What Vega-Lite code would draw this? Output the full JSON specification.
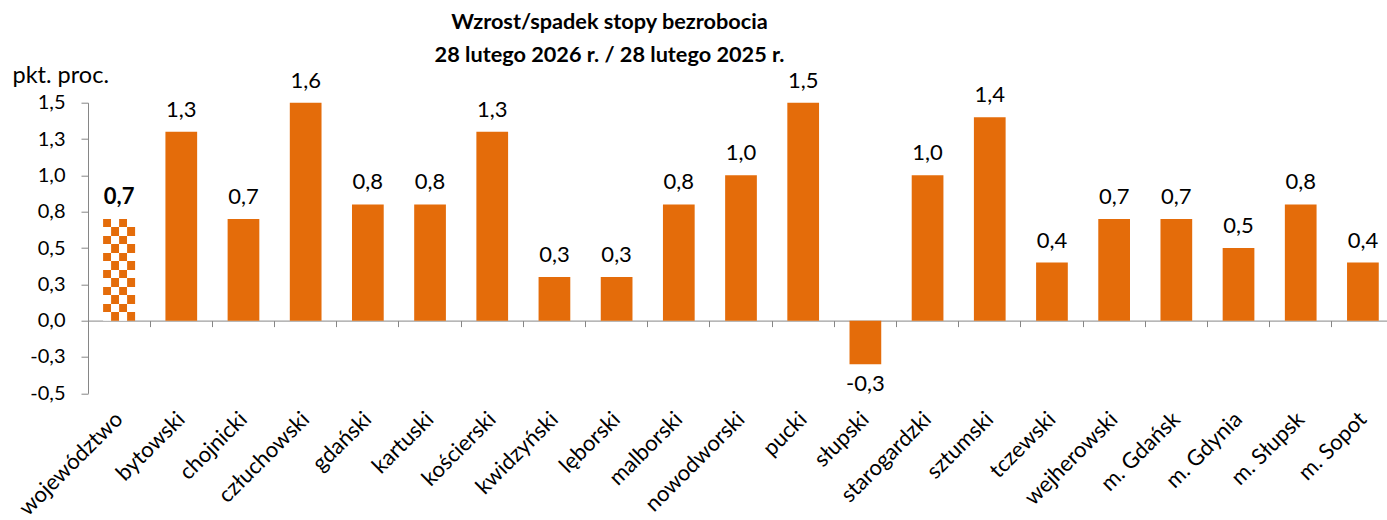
{
  "$schema": "https://vega.github.io/schema/vega-lite/v6.json",
  "width": 1299,
  "height": 290.6,
  "autosize": {"type": "none"},
  "padding": {"left": 88, "top": 102.7, "right": 0, "bottom": 126.7},
  "background": "white",
  "config": {
    "view": {"stroke": null},
    "font": "Lato",
    "locale": {"number": {"decimal": ",", "thousands": " ", "grouping": [3], "currency": ["", " zł"], "minus": "-"}},
    "axis": {"labelColor": "black", "labelFont": "Lato", "titleFont": "Lato", "titleColor": "black", "domainColor": "#868686", "tickColor": "#868686"}
  },
  "title": {
    "text": ["Wzrost/spadek stopy bezrobocia", "28 lutego 2026 r. / 28 lutego 2025 r."],
    "fontSize": 21.7,
    "fontWeight": "bold",
    "font": "Lato",
    "color": "black",
    "anchor": "middle",
    "frame": "group",
    "dx": -128,
    "dy": 3,
    "lineHeight": 33,
    "offset": 0
  },
  "data": {
    "values": [
      {"name": "województwo", "value": 0.7},
      {"name": "bytowski", "value": 1.3},
      {"name": "chojnicki", "value": 0.7},
      {"name": "człuchowski", "value": 1.6},
      {"name": "gdański", "value": 0.8},
      {"name": "kartuski", "value": 0.8},
      {"name": "kościerski", "value": 1.3},
      {"name": "kwidzyński", "value": 0.3},
      {"name": "lęborski", "value": 0.3},
      {"name": "malborski", "value": 0.8},
      {"name": "nowodworski", "value": 1.0},
      {"name": "pucki", "value": 1.5},
      {"name": "słupski", "value": -0.3},
      {"name": "starogardzki", "value": 1.0},
      {"name": "sztumski", "value": 1.4},
      {"name": "tczewski", "value": 0.4},
      {"name": "wejherowski", "value": 0.7},
      {"name": "m. Gdańsk", "value": 0.7},
      {"name": "m. Gdynia", "value": 0.5},
      {"name": "m. Słupsk", "value": 0.8},
      {"name": "m. Sopot", "value": 0.4}
    ]
  },
  "encoding": {
    "x": {"field": "name", "type": "nominal",
      "scale": {"domain": ["województwo", "bytowski", "chojnicki", "człuchowski", "gdański", "kartuski", "kościerski", "kwidzyński", "lęborski", "malborski", "nowodworski", "pucki", "słupski", "starogardzki", "sztumski", "tczewski", "wejherowski", "m. Gdańsk", "m. Gdynia", "m. Słupsk", "m. Sopot"], "paddingInner": 0, "paddingOuter": 0, "range": [0, 1306]},
      "axis": {"orient": "bottom", "title": null, "domain": true, "ticks": true, "tickSize": 6, "bandPosition": 0, "offset": -72.7, "labelAngle": -45, "labelFontSize": 22, "labelPadding": 88.7, "labelOffset": 0, "labelAlign": "right", "labelBaseline": "middle"}},
    "y": {"field": "value", "type": "quantitative",
      "scale": {"domain": [-0.5, 1.5], "nice": false, "zero": false, "clamp": true},
      "axis": {"title": "pkt. proc.", "titleAngle": 0, "titleFontSize": 23.5, "titleFontWeight": "normal", "titleAlign": "left", "titleBaseline": "middle", "titleX": -76, "titleY": -27, "grid": false, "values": [-0.5, -0.25, 0, 0.25, 0.5, 0.75, 1, 1.25, 1.5], "format": ".1f", "labelFontSize": 20, "tickSize": 7, "labelPadding": 16}}
  },
  "layer": [
    {
      "mark": {"type": "bar", "color": "#E46C0A", "width": {"band": 0.51}},
      "transform": [{"filter": "datum.name !== 'województwo'"}]
    },
    {
      "mark": {"type": "bar", "width": 8, "xOffset": -12, "color": {"gradient": "linear", "x1": 0, "y1": 0, "x2": 0, "y2": 1, "stops": [
        {"offset": 0, "color": "#E46C0A"}, {"offset": 0.0833, "color": "#E46C0A"}, {"offset": 0.0833, "color": "#FFFFFF"}, {"offset": 0.1667, "color": "#FFFFFF"},
        {"offset": 0.1667, "color": "#E46C0A"}, {"offset": 0.25, "color": "#E46C0A"}, {"offset": 0.25, "color": "#FFFFFF"}, {"offset": 0.3333, "color": "#FFFFFF"},
        {"offset": 0.3333, "color": "#E46C0A"}, {"offset": 0.4167, "color": "#E46C0A"}, {"offset": 0.4167, "color": "#FFFFFF"}, {"offset": 0.5, "color": "#FFFFFF"},
        {"offset": 0.5, "color": "#E46C0A"}, {"offset": 0.5833, "color": "#E46C0A"}, {"offset": 0.5833, "color": "#FFFFFF"}, {"offset": 0.6667, "color": "#FFFFFF"},
        {"offset": 0.6667, "color": "#E46C0A"}, {"offset": 0.75, "color": "#E46C0A"}, {"offset": 0.75, "color": "#FFFFFF"}, {"offset": 0.8333, "color": "#FFFFFF"},
        {"offset": 0.8333, "color": "#E46C0A"}, {"offset": 0.9167, "color": "#E46C0A"}, {"offset": 0.9167, "color": "#FFFFFF"}, {"offset": 1, "color": "#FFFFFF"}]}},
      "transform": [{"filter": "datum.name === 'województwo'"}]
    },
    {
      "mark": {"type": "bar", "width": 8, "xOffset": -4, "color": {"gradient": "linear", "x1": 0, "y1": 0, "x2": 0, "y2": 1, "stops": [
        {"offset": 0, "color": "#FFFFFF"}, {"offset": 0.0833, "color": "#FFFFFF"}, {"offset": 0.0833, "color": "#E46C0A"}, {"offset": 0.1667, "color": "#E46C0A"},
        {"offset": 0.1667, "color": "#FFFFFF"}, {"offset": 0.25, "color": "#FFFFFF"}, {"offset": 0.25, "color": "#E46C0A"}, {"offset": 0.3333, "color": "#E46C0A"},
        {"offset": 0.3333, "color": "#FFFFFF"}, {"offset": 0.4167, "color": "#FFFFFF"}, {"offset": 0.4167, "color": "#E46C0A"}, {"offset": 0.5, "color": "#E46C0A"},
        {"offset": 0.5, "color": "#FFFFFF"}, {"offset": 0.5833, "color": "#FFFFFF"}, {"offset": 0.5833, "color": "#E46C0A"}, {"offset": 0.6667, "color": "#E46C0A"},
        {"offset": 0.6667, "color": "#FFFFFF"}, {"offset": 0.75, "color": "#FFFFFF"}, {"offset": 0.75, "color": "#E46C0A"}, {"offset": 0.8333, "color": "#E46C0A"},
        {"offset": 0.8333, "color": "#FFFFFF"}, {"offset": 0.9167, "color": "#FFFFFF"}, {"offset": 0.9167, "color": "#E46C0A"}, {"offset": 1, "color": "#E46C0A"}]}},
      "transform": [{"filter": "datum.name === 'województwo'"}]
    },
    {
      "mark": {"type": "bar", "width": 8, "xOffset": 4, "color": {"gradient": "linear", "x1": 0, "y1": 0, "x2": 0, "y2": 1, "stops": [
        {"offset": 0, "color": "#E46C0A"}, {"offset": 0.0833, "color": "#E46C0A"}, {"offset": 0.0833, "color": "#FFFFFF"}, {"offset": 0.1667, "color": "#FFFFFF"},
        {"offset": 0.1667, "color": "#E46C0A"}, {"offset": 0.25, "color": "#E46C0A"}, {"offset": 0.25, "color": "#FFFFFF"}, {"offset": 0.3333, "color": "#FFFFFF"},
        {"offset": 0.3333, "color": "#E46C0A"}, {"offset": 0.4167, "color": "#E46C0A"}, {"offset": 0.4167, "color": "#FFFFFF"}, {"offset": 0.5, "color": "#FFFFFF"},
        {"offset": 0.5, "color": "#E46C0A"}, {"offset": 0.5833, "color": "#E46C0A"}, {"offset": 0.5833, "color": "#FFFFFF"}, {"offset": 0.6667, "color": "#FFFFFF"},
        {"offset": 0.6667, "color": "#E46C0A"}, {"offset": 0.75, "color": "#E46C0A"}, {"offset": 0.75, "color": "#FFFFFF"}, {"offset": 0.8333, "color": "#FFFFFF"},
        {"offset": 0.8333, "color": "#E46C0A"}, {"offset": 0.9167, "color": "#E46C0A"}, {"offset": 0.9167, "color": "#FFFFFF"}, {"offset": 1, "color": "#FFFFFF"}]}},
      "transform": [{"filter": "datum.name === 'województwo'"}]
    },
    {
      "mark": {"type": "bar", "width": 8, "xOffset": 12, "color": {"gradient": "linear", "x1": 0, "y1": 0, "x2": 0, "y2": 1, "stops": [
        {"offset": 0, "color": "#FFFFFF"}, {"offset": 0.0833, "color": "#FFFFFF"}, {"offset": 0.0833, "color": "#E46C0A"}, {"offset": 0.1667, "color": "#E46C0A"},
        {"offset": 0.1667, "color": "#FFFFFF"}, {"offset": 0.25, "color": "#FFFFFF"}, {"offset": 0.25, "color": "#E46C0A"}, {"offset": 0.3333, "color": "#E46C0A"},
        {"offset": 0.3333, "color": "#FFFFFF"}, {"offset": 0.4167, "color": "#FFFFFF"}, {"offset": 0.4167, "color": "#E46C0A"}, {"offset": 0.5, "color": "#E46C0A"},
        {"offset": 0.5, "color": "#FFFFFF"}, {"offset": 0.5833, "color": "#FFFFFF"}, {"offset": 0.5833, "color": "#E46C0A"}, {"offset": 0.6667, "color": "#E46C0A"},
        {"offset": 0.6667, "color": "#FFFFFF"}, {"offset": 0.75, "color": "#FFFFFF"}, {"offset": 0.75, "color": "#E46C0A"}, {"offset": 0.8333, "color": "#E46C0A"},
        {"offset": 0.8333, "color": "#FFFFFF"}, {"offset": 0.9167, "color": "#FFFFFF"}, {"offset": 0.9167, "color": "#E46C0A"}, {"offset": 1, "color": "#E46C0A"}]}},
      "transform": [{"filter": "datum.name === 'województwo'"}]
    },
    {
      "mark": {"type": "text", "fontSize": 22, "baseline": "alphabetic", "dy": -15, "color": "black"},
      "transform": [{"filter": "datum.value >= 0 && datum.name !== 'województwo'"}],
      "encoding": {"text": {"field": "value", "type": "quantitative", "format": ".1f"}}
    },
    {
      "mark": {"type": "text", "fontSize": 22, "fontWeight": "bold", "baseline": "alphabetic", "dy": -15, "color": "black"},
      "transform": [{"filter": "datum.name === 'województwo'"}],
      "encoding": {"text": {"field": "value", "type": "quantitative", "format": ".1f"}}
    },
    {
      "mark": {"type": "text", "fontSize": 22, "baseline": "top", "dy": 10, "color": "black"},
      "transform": [{"filter": "datum.value < 0"}],
      "encoding": {"text": {"field": "value", "type": "quantitative", "format": ".1f"}}
    }
  ]
}
